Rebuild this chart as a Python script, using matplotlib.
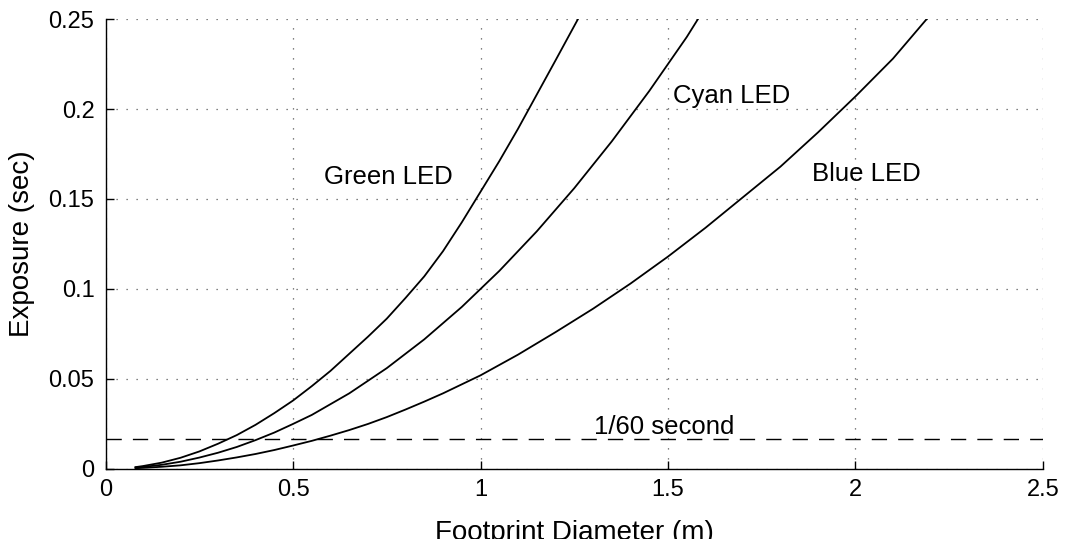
import matplotlib
matplotlib.use('Agg')
import matplotlib.pyplot as plt

plt.rcParams['font.family'] = ['Liberation Sans', 'DejaVu Sans']

# values
green_x = [0.08, 0.1, 0.15, 0.2, 0.25, 0.3, 0.35, 0.4, 0.45, 0.5, 0.55, 0.6, 0.65,
           0.7, 0.75, 0.8, 0.85, 0.9, 0.95, 1.0, 1.05, 1.1, 1.15, 1.2, 1.26]
green_y = [0.001, 0.0016, 0.0035, 0.0062, 0.0097, 0.014, 0.0188, 0.0245, 0.031,
           0.038, 0.046, 0.0545, 0.064, 0.0735, 0.0835, 0.095, 0.107, 0.121, 0.137,
           0.154, 0.171, 0.189, 0.208, 0.227, 0.25]

cyan_x = [0.08, 0.1, 0.15, 0.2, 0.25, 0.3, 0.35, 0.4, 0.45, 0.5, 0.55, 0.6, 0.65,
          0.7, 0.75, 0.8, 0.85, 0.9, 0.95, 1.0, 1.05, 1.1, 1.15, 1.2, 1.25, 1.3,
          1.35, 1.4, 1.45, 1.5, 1.55, 1.58]
cyan_y = [0.0008, 0.0011, 0.0023, 0.004, 0.0063, 0.009, 0.0122, 0.016, 0.0202,
          0.025, 0.030, 0.036, 0.042, 0.049, 0.056, 0.064, 0.072, 0.081, 0.090,
          0.1, 0.110, 0.121, 0.132, 0.144, 0.156, 0.169, 0.182, 0.196, 0.210,
          0.225, 0.240, 0.25]

blue_x = [0.08, 0.1, 0.15, 0.2, 0.25, 0.3, 0.35, 0.4, 0.45, 0.5, 0.55, 0.6, 0.65,
          0.7, 0.75, 0.8, 0.85, 0.9, 0.95, 1.0, 1.1, 1.2, 1.3, 1.4, 1.5, 1.6, 1.7,
          1.8, 1.9, 2.0, 2.1, 2.19]
blue_y = [0.0004, 0.0006, 0.0012, 0.002, 0.0032, 0.0047, 0.0064, 0.0083, 0.0105,
          0.013, 0.0156, 0.0185, 0.0216, 0.025, 0.0288, 0.033, 0.0374, 0.042,
          0.047, 0.052, 0.0635, 0.076, 0.089, 0.103, 0.118, 0.134, 0.151, 0.168,
          0.187, 0.207, 0.228, 0.25]

frame_rate_line = 1 / 60
x_ticks = [0, 0.5, 1, 1.5, 2, 2.5]
x_tick_labels = ['0', '0.5', '1', '1.5', '2', '2.5']
y_ticks = [0, 0.05, 0.1, 0.15, 0.2, 0.25]
y_tick_labels = ['0', '0.05', '0.1', '0.15', '0.2', '0.25']

fig = plt.figure(figsize=(10.66, 5.39), dpi=100)
ax = fig.add_axes([0.099, 0.13, 0.8794, 0.8347])

ax.plot(green_x, green_y, color='black', lw=1.3)
ax.plot(cyan_x, cyan_y, color='black', lw=1.3)
ax.plot(blue_x, blue_y, color='black', lw=1.3)
ax.axhline(frame_rate_line, color='black', lw=1.0, linestyle=(0, (11, 8)))

ax.text(0.753, 0.162, 'Green LED', fontsize=18.5, ha='center', va='center')
ax.text(1.67, 0.207, 'Cyan LED', fontsize=18.5, ha='center', va='center')
ax.text(2.03, 0.164, 'Blue LED', fontsize=18.5, ha='center', va='center')
ax.text(1.49, 0.0235, '1/60 second', fontsize=18.5, ha='center', va='center')

ax.set_xlim(0, 2.5)
ax.set_ylim(0, 0.25)
ax.set_xticks(x_ticks)
ax.set_xticklabels(x_tick_labels)
ax.set_yticks(y_ticks)
ax.set_yticklabels(y_tick_labels)
ax.tick_params(direction='in', length=6, width=1, labelsize=17)
ax.tick_params(axis='x', pad=7)
ax.tick_params(axis='y', pad=8)

ax.grid(True, color='0.35', lw=0.9, linestyle=(0, (1, 7)))
ax.spines['top'].set_visible(False)
ax.spines['right'].set_visible(False)
ax.spines['left'].set_linewidth(1.0)
ax.spines['bottom'].set_linewidth(1.0)

ax.set_xlabel('Footprint Diameter (m)', fontsize=20, labelpad=14)
ax.set_ylabel('Exposure (sec)', fontsize=20, labelpad=10)

fig.savefig('out.png', dpi=100)
